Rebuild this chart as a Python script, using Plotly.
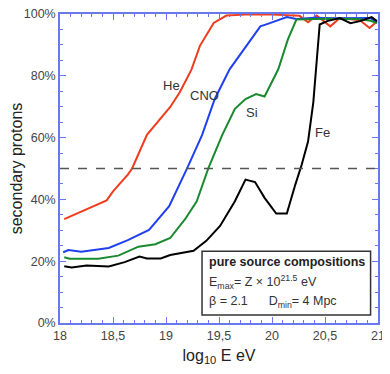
import plotly.graph_objects as go

# log10 E / % secondary protons
he_x = [18.04, 18.44, 18.50, 18.64, 18.68, 18.82, 19.04, 19.13, 19.24, 19.32, 19.45, 19.57, 19.75, 20.00,
        20.26, 20.34, 20.42, 20.55, 20.64, 20.74, 20.83, 20.92, 20.99]
he_y = [33.6, 39.7, 42.6, 48.0, 50.0, 60.9, 69.9, 74.7, 82.0, 89.7, 97.1, 99.5, 99.8, 99.8,
        99.4, 97.3, 99.5, 96.0, 98.7, 98.4, 98.0, 95.5, 97.6]

cno_x = [18.03, 18.08, 18.20, 18.46, 18.64, 18.84, 19.03, 19.14, 19.20, 19.34, 19.46, 19.60, 19.76, 19.89,
         19.96, 20.14, 20.23, 20.40, 20.60, 20.80, 20.93, 20.99]
cno_y = [22.9, 23.6, 23.1, 24.3, 26.8, 30.1, 37.8, 45.5, 50.1, 60.8, 72.5, 82.1, 89.6, 96.0,
         96.8, 99.0, 98.4, 98.8, 98.6, 98.8, 98.7, 97.2]

si_x = [18.04, 18.09, 18.36, 18.55, 18.74, 18.90, 19.04, 19.18, 19.29, 19.40, 19.53, 19.65, 19.75, 19.85,
        19.93, 19.98, 20.06, 20.15, 20.23, 20.50, 20.80, 20.93, 20.99]
si_y = [21.3, 20.8, 20.8, 21.8, 24.7, 25.5, 27.5, 33.6, 39.4, 50.1, 60.8, 69.3, 72.5, 74.1,
        73.3, 76.8, 82.2, 91.8, 98.2, 98.5, 98.4, 97.8, 97.1]

fe_x = [18.04, 18.11, 18.25, 18.46, 18.61, 18.75, 18.82, 18.95, 19.04, 19.14, 19.26, 19.38, 19.51, 19.65,
        19.75, 19.84, 19.93, 20.04, 20.14, 20.22, 20.28, 20.34, 20.39, 20.45, 20.52, 20.64, 20.74,
        20.83, 20.94, 20.99]
fe_y = [18.4, 18.0, 18.6, 18.3, 19.7, 21.5, 20.9, 20.9, 22.0, 22.6, 23.4, 26.6, 31.4, 39.4,
        46.4, 45.6, 40.5, 35.4, 35.4, 44.8, 51.2, 58.7, 71.5, 96.6, 97.7, 98.7, 97.0,
        97.7, 99.0, 97.7]

x_ticks = [18, 18.5, 19, 19.5, 20, 20.5, 21]
x_tick_labels = ["18", "18,5", "19", "19,5", "20", "20,5", "21"]

series = [
    ("He", he_x, he_y, "#f03c1e"),
    ("CNO", cno_x, cno_y, "#2040f0"),
    ("Si", si_x, si_y, "#1a8a30"),
    ("Fe", fe_x, fe_y, "#000000"),
]

font = "Liberation Sans, Arial, sans-serif"
axis_col = "#6a78f0"

fig = go.Figure()
for name, xs, ys, col in series:
    fig.add_trace(go.Scatter(x=xs, y=ys, mode="lines", name=name,
                             line=dict(color=col, width=2), cliponaxis=False))

# 50 % reference line
fig.add_shape(type="line", xref="paper", yref="y", x0=0, x1=1, y0=50, y1=50,
              line=dict(color="#555555", width=1.5, dash="dash"))

# curve labels
labels = [("He", 19.05, 77.0), ("CNO", 19.36, 73.5), ("Si", 19.81, 68.0), ("Fe", 20.48, 61.5)]
for txt, lx, ly in labels:
    fig.add_annotation(x=lx, y=ly, text=txt, showarrow=False,
                       font=dict(size=13, color="#333333", family=font))

# info box
fig.add_shape(type="rect", xref="x", yref="y", x0=19.34, x1=20.93, y0=2.6, y1=23.2,
              line=dict(color="#333333", width=1.5), fillcolor="white")
fig.add_annotation(x=19.39, y=19.7, xanchor="left", text="<b>pure source compositions</b>",
                   showarrow=False, font=dict(size=12.5, color="#222222", family=font))
fig.add_annotation(x=19.39, y=13.4, xanchor="left",
                   text="E<sub>max</sub>= Z × 10<sup>21.5</sup> eV",
                   showarrow=False, font=dict(size=12.5, color="#333333", family=font))
fig.add_annotation(x=19.39, y=6.8, xanchor="left",
                   text="β = 2.1      D<sub>min</sub>= 4 Mpc",
                   showarrow=False, font=dict(size=12.5, color="#333333", family=font))

# page body has an 8px margin, so the figure is shrunk by that much
fig.update_layout(
    width=382, height=366,
    margin=dict(l=52, r=12, t=6, b=51, autoexpand=False),
    paper_bgcolor="white", plot_bgcolor="white",
    showlegend=False,
    font=dict(family=font, size=12.5, color="#444444"),
    xaxis=dict(range=[18, 21], tickvals=x_ticks, ticktext=x_tick_labels, automargin=False,
               ticklabeloverflow="allow",
               ticks="inside", ticklen=6, tickcolor=axis_col, tickwidth=1,
               showline=True, linecolor=axis_col, linewidth=1.5, mirror="allticks",
               showgrid=False, zeroline=False,
               minor=dict(dtick=0.1, ticks="inside", ticklen=3, tickcolor=axis_col, showgrid=False),
               title=dict(text="log<sub>10</sub> E eV", font=dict(size=16, color="#222222"), standoff=8)),
    yaxis=dict(range=[0, 100], dtick=20, ticksuffix="%", automargin=False,
               ticklabeloverflow="allow",
               ticks="inside", ticklen=6, tickcolor=axis_col, tickwidth=1,
               showline=True, linecolor=axis_col, linewidth=1.5, mirror="allticks",
               showgrid=False, zeroline=False,
               minor=dict(dtick=5, ticks="inside", ticklen=3, tickcolor=axis_col, showgrid=False),
               title=dict(text="secondary protons", font=dict(size=16, color="#222222"), standoff=6)),
)

fig.write_html("out.html")
